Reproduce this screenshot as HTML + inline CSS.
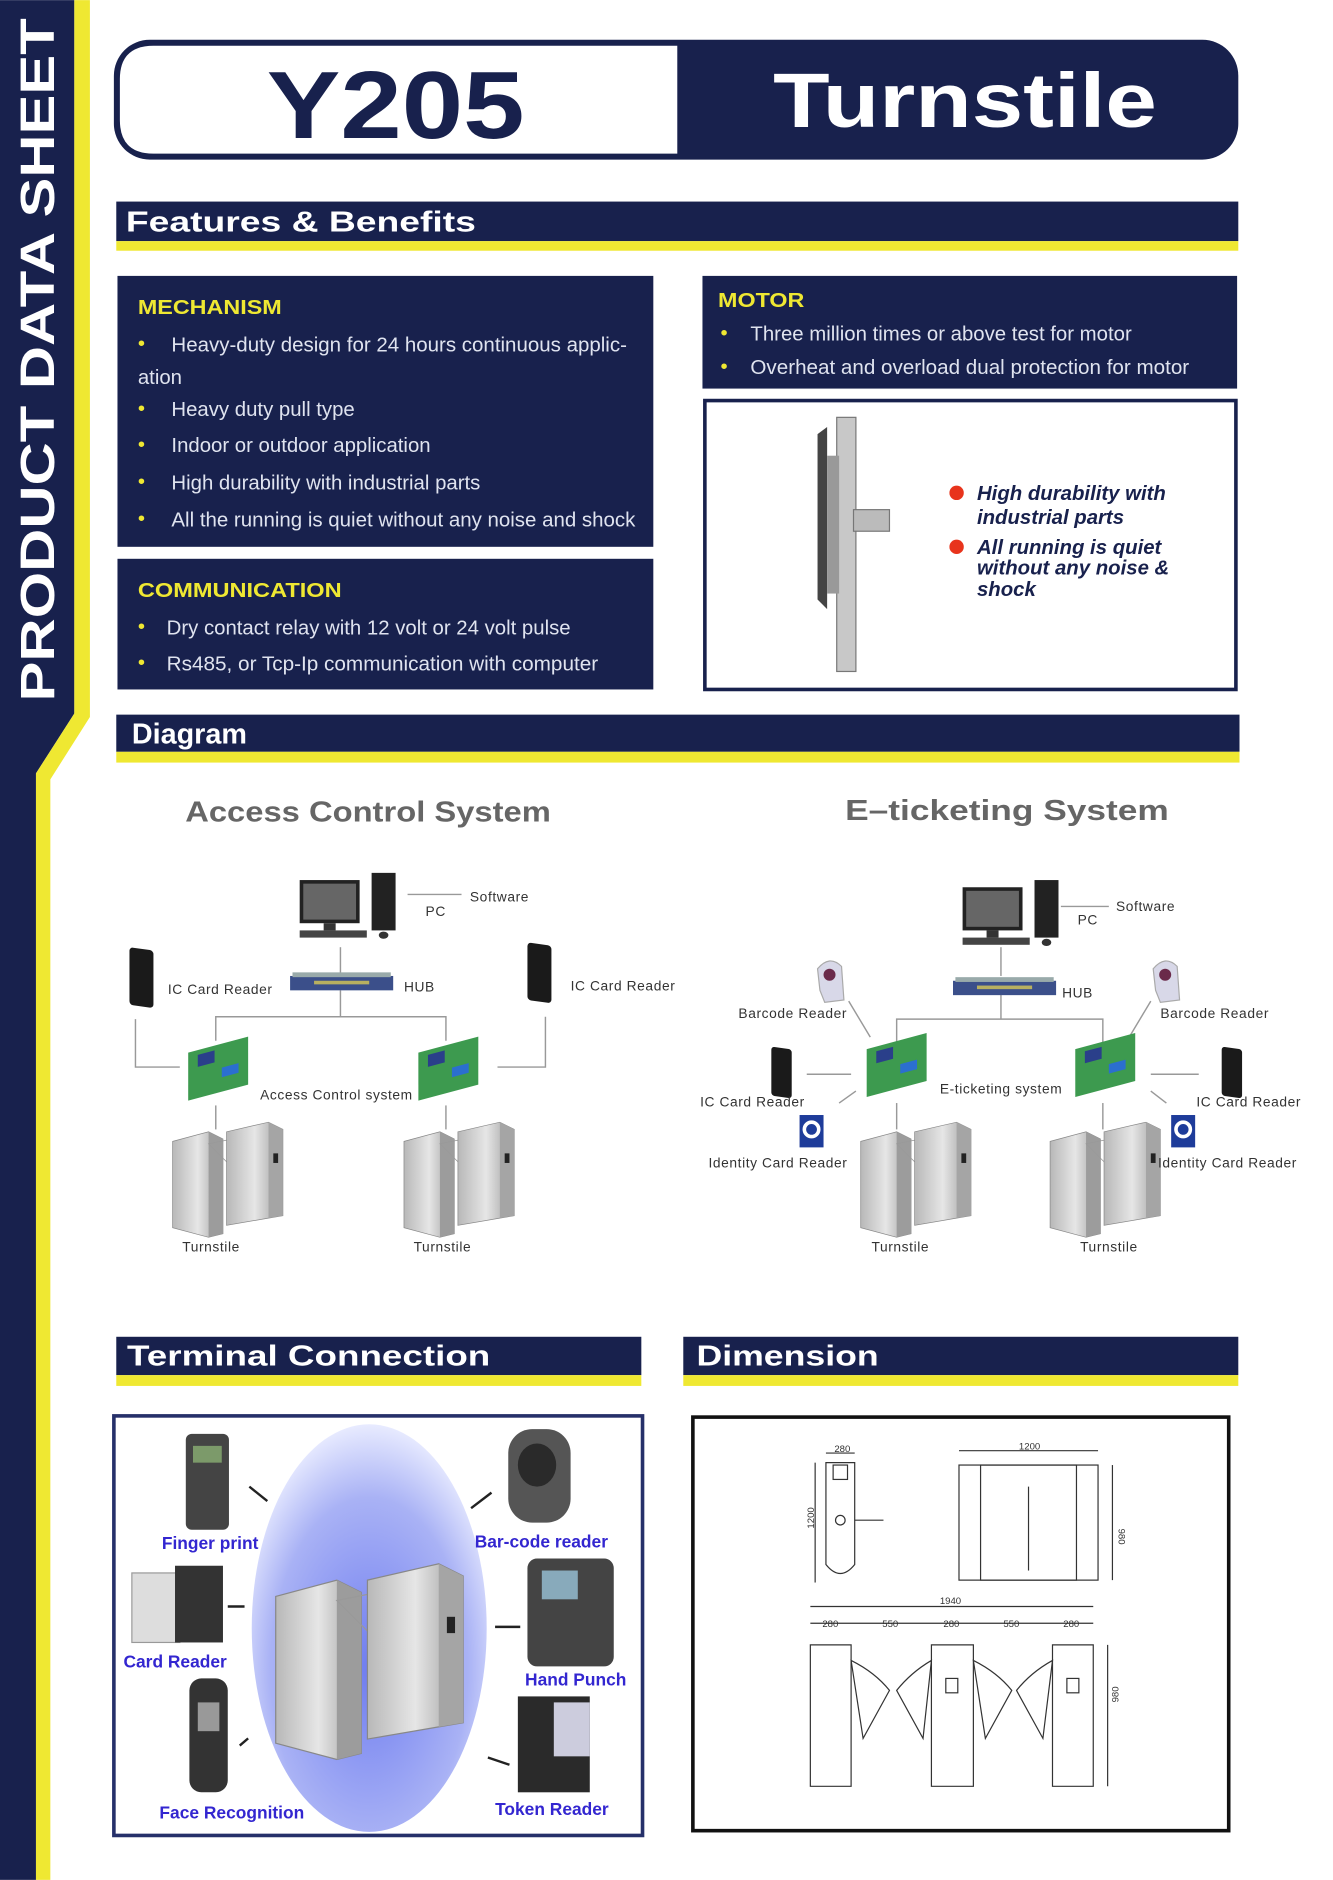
<!DOCTYPE html>
<html><head><meta charset="utf-8"><style>html,body{margin:0;padding:0;background:#fff}svg{display:block}text{font-family:"Liberation Sans",sans-serif}</style></head>
<body>
<svg width="1333" height="1880" viewBox="0 0 1112 1568" xmlns="http://www.w3.org/2000/svg">
<defs>
<linearGradient id="metal" x1="0" x2="1"><stop offset="0" stop-color="#b8b8b8"/><stop offset=".5" stop-color="#e6e6e6"/><stop offset="1" stop-color="#9a9a9a"/></linearGradient>
<radialGradient id="blue" cx=".5" cy=".6" r=".6"><stop offset="0" stop-color="#6f7df0"/><stop offset=".7" stop-color="#a9b2f5"/><stop offset="1" stop-color="#e8ebff"/></radialGradient>
<g id="ts">
<path d="M0,8 L30,0 L42,6 L42,85 L30,88 L0,80Z" fill="url(#metal)" stroke="#888" stroke-width=".6"/>
<path d="M30,0 L42,6 L42,85 L30,88Z" fill="#9c9c9c"/>
<path d="M30,10 L60,4 L60,40Z" fill="none" stroke="#999" stroke-width=".6"/>
<path d="M45,0 L80,-8 L92,-2 L92,70 L80,72 L45,78Z" fill="url(#metal)" stroke="#888" stroke-width=".6"/>
<path d="M80,-8 L92,-2 L92,70 L80,72Z" fill="#a5a5a5"/>
<rect x="84" y="18" width="4" height="8" fill="#222"/>
</g>
<g id="pc">
<rect x="0" y="0" width="50" height="36" fill="#222"/><rect x="3" y="3" width="44" height="30" fill="#666"/>
<rect x="20" y="36" width="10" height="6" fill="#333"/><rect x="0" y="42" width="56" height="6" fill="#444"/>
<rect x="60" y="-6" width="20" height="48" fill="#222"/><ellipse cx="70" cy="46" rx="4" ry="3" fill="#333"/>
</g>
<g id="hub"><rect x="0" y="0" width="86" height="12" fill="#3b4f8a"/><rect x="2" y="-3" width="82" height="4" fill="#9aa"/><rect x="20" y="4" width="46" height="3" fill="#b8b060"/></g>
<g id="board"><rect x="0" y="0" width="50" height="40" fill="#3d9a4f" transform="skewY(-15)"/><rect x="8" y="4" width="14" height="10" fill="#2a3f8a" transform="skewY(-15)"/><rect x="28" y="20" width="14" height="8" fill="#2b6fcf" transform="skewY(-15)"/></g>
<g id="card"><rect x="0" y="0" width="20" height="48" rx="3" fill="#1a1a1a" transform="skewY(8)"/></g>
</defs>

<polygon points="0,0 62,0 62,595 30,645 30,1568 0,1568" fill="#18214d"/>
<polygon points="62,0 75,0 75,598 42,650 42,1568 30,1568 30,645 62,595" fill="#efe832"/>
<text transform="translate(45,300) rotate(-90)" text-anchor="middle" font-size="40" font-weight="bold" fill="#fff" textLength="570" lengthAdjust="spacingAndGlyphs">PRODUCT DATA SHEET</text>

<rect x="95" y="33" width="938" height="100" rx="30" fill="#18214d"/>
<path d="M128,38 L565,38 L565,128 L128,128 Q100,128 100,100 L100,66 Q100,38 128,38Z" fill="#fff"/>
<text x="330" y="115" text-anchor="middle" font-size="80" font-weight="bold" fill="#18214d" textLength="215" lengthAdjust="spacingAndGlyphs">Y205</text>
<text x="805" y="106" text-anchor="middle" font-size="64" font-weight="bold" fill="#fff" textLength="320" lengthAdjust="spacingAndGlyphs">Turnstile</text>

<rect x="97" y="168" width="936" height="33" fill="#18214d"/><rect x="97" y="201" width="936" height="8" fill="#efe832"/>
<text x="105" y="193" font-size="24" font-weight="bold" fill="#fff" textLength="292" lengthAdjust="spacingAndGlyphs">Features &amp; Benefits</text>

<rect x="98" y="230" width="447" height="226" fill="#18214d"/>
<text x="115" y="262" font-size="17" font-weight="bold" fill="#efe832" textLength="120" lengthAdjust="spacingAndGlyphs">MECHANISM</text>
<g font-size="17" fill="#dfe3ef">
<text x="115" y="292" fill="#efe832">•</text><text x="143" y="293" textLength="380" lengthAdjust="spacingAndGlyphs">Heavy-duty design for 24 hours continuous applic-</text>
<text x="115" y="320">ation</text>
<text x="115" y="346" fill="#efe832">•</text><text x="143" y="347">Heavy duty pull type</text>
<text x="115" y="376" fill="#efe832">•</text><text x="143" y="377">Indoor or outdoor application</text>
<text x="115" y="407" fill="#efe832">•</text><text x="143" y="408">High durability with industrial parts</text>
<text x="115" y="438" fill="#efe832">•</text><text x="143" y="439" textLength="387" lengthAdjust="spacingAndGlyphs">All the running is quiet without any noise and shock</text>
</g>
<rect x="98" y="466" width="447" height="109" fill="#18214d"/>
<text x="115" y="498" font-size="17" font-weight="bold" fill="#efe832" textLength="170" lengthAdjust="spacingAndGlyphs">COMMUNICATION</text>
<g font-size="17" fill="#dfe3ef">
<text x="115" y="528" fill="#efe832">•</text><text x="139" y="529">Dry contact relay  with 12 volt or 24 volt pulse</text>
<text x="115" y="558" fill="#efe832">•</text><text x="139" y="559" textLength="360" lengthAdjust="spacingAndGlyphs">Rs485, or Tcp-Ip communication with computer</text>
</g>
<rect x="586" y="230" width="446" height="94" fill="#18214d"/>
<text x="599" y="256" font-size="17" font-weight="bold" fill="#efe832" textLength="72" lengthAdjust="spacingAndGlyphs">MOTOR</text>
<g font-size="17" fill="#dfe3ef">
<text x="601" y="283" fill="#efe832">•</text><text x="626" y="284">Three million times or above  test for motor</text>
<text x="601" y="311" fill="#efe832">•</text><text x="626" y="312" textLength="366" lengthAdjust="spacingAndGlyphs">Overheat and overload dual protection for motor</text>
</g>
<rect x="588" y="334" width="443" height="241" fill="#fff" stroke="#18214d" stroke-width="3"/>
<rect x="698" y="348" width="16" height="212" fill="#c8c8c8" stroke="#777"/>
<path d="M682,362 L690,356 L690,508 L682,500Z" fill="#444"/>
<rect x="690" y="380" width="10" height="115" fill="#999"/>
<rect x="712" y="425" width="30" height="18" fill="#bbb" stroke="#777"/>
<circle cx="798" cy="411" r="6" fill="#e8341c"/><circle cx="798" cy="456" r="6" fill="#e8341c"/>
<g font-size="17" font-weight="bold" font-style="italic" fill="#18214d">
<text x="815" y="417">High durability with</text><text x="815" y="437">industrial parts</text>
<text x="815" y="462">All running is quiet</text><text x="815" y="479">without any noise &amp;</text><text x="815" y="497">shock</text>
</g>

<rect x="97" y="596" width="937" height="31" fill="#18214d"/><rect x="97" y="627" width="937" height="9" fill="#efe832"/>
<text x="110" y="620" font-size="24" font-weight="bold" fill="#fff">Diagram</text>

<text x="307" y="685" text-anchor="middle" font-size="24" font-weight="bold" fill="#666" textLength="305" lengthAdjust="spacingAndGlyphs">Access Control System</text>
<text x="840" y="684" text-anchor="middle" font-size="24" font-weight="bold" fill="#666" textLength="270" lengthAdjust="spacingAndGlyphs">E–ticketing System</text>

<g stroke="#999" stroke-width="1.2" fill="none">
<line x1="340" y1="746" x2="385" y2="746"/>
<line x1="284" y1="790" x2="284" y2="812"/>
<polyline points="180,868 180,848 372,848 372,868"/><line x1="284" y1="826" x2="284" y2="848"/>
<polyline points="113,850 113,890 150,890"/><polyline points="455,848 455,890 415,890"/>
<line x1="180" y1="922" x2="180" y2="942"/><line x1="372" y1="922" x2="372" y2="942"/>
</g>
<use href="#pc" x="250" y="734"/>
<use href="#hub" x="242" y="814"/>
<use href="#card" x="108" y="790"/><use href="#card" x="440" y="786"/>
<use href="#board" x="157" y="878"/><use href="#board" x="349" y="878"/>
<use href="#ts" x="144" y="944"/><use href="#ts" x="337" y="944"/>
<g font-size="11.5" fill="#333" letter-spacing=".5">
<text x="392" y="752">Software</text><text x="355" y="764">PC</text>
<text x="140" y="829">IC Card Reader</text><text x="337" y="827">HUB</text><text x="476" y="826">IC Card Reader</text>
<text x="217" y="917">Access Control system</text>
<text x="152" y="1044">Turnstile</text><text x="345" y="1044">Turnstile</text>
</g>

<g stroke="#999" stroke-width="1.2" fill="none">
<line x1="885" y1="756" x2="925" y2="756"/>
<line x1="835" y1="790" x2="835" y2="814"/>
<polyline points="748,878 748,850 920,850 920,878"/><line x1="835" y1="826" x2="835" y2="850"/>
<line x1="708" y1="835" x2="726" y2="865"/><line x1="960" y1="835" x2="942" y2="865"/>
<line x1="673" y1="896" x2="710" y2="896"/><line x1="1000" y1="896" x2="960" y2="896"/>
<line x1="700" y1="920" x2="714" y2="910"/><line x1="960" y1="910" x2="973" y2="920"/>
<line x1="748" y1="920" x2="748" y2="942"/><line x1="920" y1="920" x2="920" y2="942"/>
</g>
<use href="#pc" x="803" y="740"/>
<use href="#hub" x="795" y="818"/>
<path d="M682,808 Q692,796 702,806 L704,834 L688,836 L684,826Z" fill="#d8d8e8" stroke="#aaa"/><circle cx="692" cy="813" r="5" fill="#6a2a4a"/>
<path d="M962,808 Q972,796 982,806 L984,834 L968,836 L964,826Z" fill="#d8d8e8" stroke="#aaa"/><circle cx="972" cy="813" r="5" fill="#6a2a4a"/>
<use href="#card" x="644" y="872" transform="scale(.85) translate(113,155)"/>
<use href="#card" x="1019" y="872" transform="scale(.85) translate(180,155)"/>
<rect x="667" y="930" width="20" height="27" fill="#1e3c9a"/><circle cx="677" cy="942" r="6" fill="none" stroke="#fff" stroke-width="3"/>
<rect x="977" y="930" width="20" height="27" fill="#1e3c9a"/><circle cx="987" cy="942" r="6" fill="none" stroke="#fff" stroke-width="3"/>
<use href="#board" x="723" y="875"/><use href="#board" x="897" y="875"/>
<use href="#ts" x="718" y="944"/><use href="#ts" x="876" y="944"/>
<g font-size="11.5" fill="#333" letter-spacing=".5">
<text x="931" y="760">Software</text><text x="899" y="771">PC</text>
<text x="616" y="849">Barcode Reader</text><text x="886" y="832">HUB</text><text x="968" y="849">Barcode Reader</text>
<text x="584" y="923">IC Card Reader</text><text x="784" y="912">E-ticketing system</text><text x="998" y="923">IC Card Reader</text>
<text x="591" y="974">Identity Card Reader</text><text x="966" y="974">Identity Card Reader</text>
<text x="727" y="1044">Turnstile</text><text x="901" y="1044">Turnstile</text>
</g>

<rect x="97" y="1115" width="438" height="32" fill="#18214d"/><rect x="97" y="1147" width="438" height="9" fill="#efe832"/>
<text x="106" y="1139" font-size="24" font-weight="bold" fill="#fff" textLength="303" lengthAdjust="spacingAndGlyphs">Terminal Connection</text>
<rect x="570" y="1115" width="463" height="32" fill="#18214d"/><rect x="570" y="1147" width="463" height="9" fill="#efe832"/>
<text x="581" y="1139" font-size="24" font-weight="bold" fill="#fff" textLength="152" lengthAdjust="spacingAndGlyphs">Dimension</text>

<rect x="95" y="1181" width="441" height="350" fill="#fff" stroke="#26306a" stroke-width="3"/>
<ellipse cx="308" cy="1358" rx="98" ry="170" fill="url(#blue)"/>
<g transform="translate(230,1318) scale(1.7)"><use href="#ts"/></g>
<rect x="155" y="1196" width="36" height="80" rx="5" fill="#444"/><rect x="161" y="1206" width="24" height="14" fill="#7c9a6a"/>
<rect x="424" y="1192" width="52" height="78" rx="20" fill="#555"/><ellipse cx="448" cy="1222" rx="16" ry="18" fill="#2a2a2a"/>
<rect x="110" y="1312" width="40" height="58" fill="#ddd" stroke="#999"/><rect x="146" y="1306" width="40" height="64" fill="#333"/>
<rect x="440" y="1300" width="72" height="90" rx="8" fill="#444"/><rect x="452" y="1310" width="30" height="24" fill="#8ab"/>
<rect x="158" y="1400" width="32" height="95" rx="10" fill="#333"/><rect x="165" y="1420" width="18" height="24" fill="#999"/>
<rect x="432" y="1415" width="60" height="80" fill="#2a2a2a"/><rect x="462" y="1420" width="30" height="45" fill="#ccd"/>
<g stroke="#222" stroke-width="2" fill="#222">
<line x1="208" y1="1240" x2="223" y2="1252"/><line x1="410" y1="1245" x2="393" y2="1258"/>
<line x1="190" y1="1340" x2="204" y2="1340"/><line x1="413" y1="1357" x2="434" y2="1357"/>
<line x1="200" y1="1456" x2="207" y2="1450"/><line x1="407" y1="1466" x2="425" y2="1472"/>
</g>
<g font-size="14.5" font-weight="bold" fill="#3326d0">
<text x="135" y="1292">Finger print</text><text x="396" y="1291">Bar-code reader</text>
<text x="103" y="1391">Card Reader</text><text x="438" y="1406">Hand Punch</text>
<text x="133" y="1517">Face Recognition</text><text x="413" y="1514">Token Reader</text>
</g>

<rect x="578" y="1182" width="447" height="345" fill="#fff" stroke="#111" stroke-width="3"/>
<g stroke="#333" stroke-width="1" fill="none">
<path d="M689,1220 L713,1220 L713,1305 Q701,1320 689,1305Z"/><rect x="695" y="1222" width="12" height="12"/><circle cx="701" cy="1268" r="4"/><line x1="713" y1="1268" x2="737" y2="1268"/>
<line x1="680" y1="1220" x2="680" y2="1320"/><line x1="689" y1="1212" x2="713" y2="1212"/>
<rect x="800" y="1222" width="116" height="96"/><rect x="818" y="1222" width="80" height="96"/><line x1="858" y1="1240" x2="858" y2="1310"/>
<line x1="800" y1="1210" x2="916" y2="1210"/><line x1="928" y1="1222" x2="928" y2="1318"/>
<line x1="676" y1="1340" x2="912" y2="1340"/><line x1="676" y1="1354" x2="912" y2="1354"/>
<path d="M676,1372 L710,1372 L710,1490 L676,1490Z"/><path d="M710,1385 Q730,1395 742,1410 L720,1450Z"/>
<path d="M777,1372 L812,1372 L812,1490 L777,1490Z"/><rect x="789" y="1400" width="10" height="12"/><path d="M777,1385 Q760,1395 748,1410 L770,1450Z"/><path d="M812,1385 Q832,1395 844,1410 L822,1450Z"/>
<path d="M878,1372 L912,1372 L912,1490 L878,1490Z"/><rect x="890" y="1400" width="10" height="12"/><path d="M878,1385 Q860,1395 848,1410 L870,1450Z"/>
<line x1="924" y1="1372" x2="924" y2="1490"/>
</g>
<g font-size="8" fill="#333">
<text x="696" y="1211">280</text><text x="850" y="1209">1200</text><text x="784" y="1338">1940</text>
<text x="686" y="1357">280</text><text x="736" y="1357">550</text><text x="787" y="1357">280</text><text x="837" y="1357">550</text><text x="887" y="1357">280</text>
<text transform="translate(679,1275) rotate(-90)">1200</text><text transform="translate(933,1275) rotate(90)">980</text><text transform="translate(933,1420) rotate(-90)">980</text>
</g>
</svg>
</body></html>
